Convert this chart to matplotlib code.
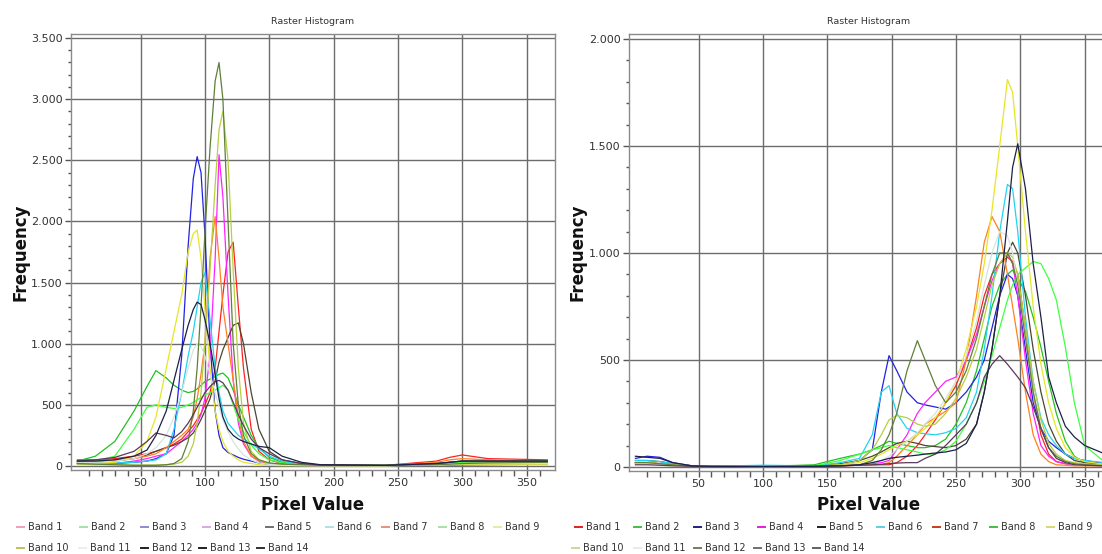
import matplotlib
matplotlib.use("Agg")
import matplotlib.pyplot as plt
from matplotlib.lines import Line2D
from matplotlib.ticker import FixedLocator, FuncFormatter

# ---------------------------------------------------------------- data
bands = [f"Band {i}" for i in range(1, 15)]

# left histogram: pixel values and frequencies per band
left_x = [1, 15, 30, 45, 55, 62, 70, 76, 82, 87, 91, 94, 97, 100, 104, 108, 111,
          114, 118, 122, 126, 130, 136, 142, 150, 160, 175, 190, 240, 280, 290,
          300, 320, 366]
left_b1 = [50, 50, 60, 80, 100, 120, 150, 180, 220, 280, 330, 380, 430, 500, 600, 800, 1100,
           1400, 1750, 1830, 1300, 800, 300, 120, 50, 20, 10, 5, 5, 40, 70, 90, 60, 50]
left_b2 = [40, 80, 200, 450, 650, 780, 720, 660, 620, 600, 610, 630, 660, 690, 710, 730, 750,
           760, 720, 620, 500, 400, 250, 150, 70, 30, 10, 5, 5, 15, 20, 25, 30, 35]
left_b3 = [20, 15, 20, 30, 40, 60, 100, 250, 900, 1800, 2350, 2530, 2400, 1900, 1000, 450, 250,
           150, 110, 90, 70, 55, 40, 25, 12, 6, 3, 2, 2, 5, 5, 8, 10, 15]
left_b4 = [20, 15, 20, 40, 60, 80, 100, 150, 200, 250, 300, 350, 420, 550, 900, 1700, 2545,
           2200, 1400, 700, 350, 180, 80, 40, 20, 10, 5, 3, 3, 10, 15, 20, 20, 20]
left_b5 = [30, 30, 40, 60, 90, 120, 150, 170, 200, 230, 270, 320, 380, 450, 550, 700, 850,
           950, 1050, 1150, 1170, 1000, 600, 300, 120, 50, 20, 8, 5, 20, 30, 40, 40, 40]
left_b6 = [20, 20, 25, 30, 40, 50, 100, 300, 600, 900, 1100, 1300, 1500, 1580, 1200, 800, 600,
           450, 350, 300, 250, 220, 180, 140, 80, 40, 10, 4, 3, 10, 15, 20, 20, 20]
left_b7 = [40, 40, 50, 60, 80, 100, 150, 200, 250, 300, 400, 550, 750, 1000, 1700, 2040, 1700,
           1300, 1000, 700, 400, 200, 80, 40, 20, 10, 5, 3, 3, 30, 50, 60, 50, 40]
left_b8 = [30, 40, 80, 300, 480, 500, 480, 470, 480, 500, 520, 540, 560, 580, 600, 620, 640,
           660, 620, 500, 380, 280, 170, 100, 50, 25, 10, 5, 5, 20, 25, 30, 35, 40]
left_b9 = [20, 20, 30, 80, 200, 400, 800, 1100, 1400, 1750, 1900, 1930, 1700, 1300, 800, 450, 300,
           200, 120, 80, 50, 30, 20, 10, 5, 3, 2, 2, 2, 5, 8, 10, 10, 10]
left_b10 = [15, 10, 10, 8, 8, 8, 10, 15, 30, 80, 180, 350, 600, 1000, 1600, 2300, 2750,
            2900, 2500, 1600, 800, 350, 120, 50, 20, 10, 5, 3, 3, 10, 15, 20, 25, 30]
left_b11 = [30, 30, 40, 60, 100, 150, 250, 400, 600, 800, 950, 1000, 980, 900, 750, 600, 480,
            380, 280, 200, 140, 90, 50, 25, 12, 6, 3, 2, 2, 10, 15, 20, 20, 20]
left_b12 = [20, 15, 10, 5, 5, 5, 10, 20, 60, 200, 450, 800, 1300, 1900, 2600, 3150, 3300,
            3000, 2000, 1000, 500, 250, 100, 50, 25, 15, 10, 5, 5, 10, 15, 20, 25, 30]
left_b13 = [40, 50, 70, 120, 200, 270, 250, 230, 280, 350, 420, 480, 540, 600, 650, 690, 700,
            680, 620, 520, 420, 330, 220, 150, 100, 50, 20, 8, 5, 20, 30, 40, 40, 40]
left_b14 = [40, 40, 50, 80, 130, 250, 450, 700, 950, 1150, 1280, 1340, 1320, 1200, 1000, 750, 550,
            400, 300, 250, 220, 200, 180, 160, 150, 80, 30, 10, 5, 20, 30, 40, 40, 40]

# right histogram
right_x = [1, 10, 20, 30, 45, 60, 100, 140, 160, 175, 185, 192, 198, 204, 212, 220, 226,
           234, 242, 250, 258, 266, 272, 278, 284, 290, 294, 298, 304, 310, 316, 322,
           328, 335, 342, 350, 366]
right_b1 = [20, 20, 15, 10, 5, 3, 2, 3, 5, 8, 10, 10, 10, 20, 50, 100, 150,
            220, 300, 380, 500, 650, 800, 900, 950, 980, 960, 900, 650, 350, 150, 60,
            25, 15, 10, 8, 5]
right_b2 = [20, 20, 15, 10, 5, 3, 2, 10, 40, 60, 80, 100, 120, 110, 100, 90, 90,
            100, 130, 200, 300, 450, 600, 750, 850, 900, 920, 880, 820, 700, 560, 400,
            250, 120, 50, 20, 5]
right_b3 = [40, 50, 45, 20, 5, 3, 2, 3, 10, 30, 80, 350, 520, 450, 350, 300, 290,
            280, 270, 300, 350, 420, 500, 650, 800, 900, 880, 800, 550, 300, 180, 120,
            90, 60, 40, 30, 15]
right_b4 = [20, 20, 15, 10, 5, 3, 2, 3, 5, 10, 15, 20, 30, 80, 150, 250, 300,
            350, 400, 420, 500, 620, 750, 870, 950, 1000, 950, 800, 500, 250, 100, 50,
            25, 15, 10, 8, 5]
right_b5 = [30, 30, 25, 15, 5, 3, 2, 5, 15, 30, 50, 70, 90, 110, 120, 110, 100,
            95, 90, 100, 130, 200, 350, 550, 800, 1000, 1050, 1000, 800, 550, 350, 200,
            120, 60, 30, 20, 10]
right_b6 = [30, 30, 25, 15, 5, 3, 8, 5, 20, 40, 150, 350, 380, 250, 180, 160, 155,
            150, 160, 180, 230, 350, 550, 800, 1100, 1320, 1300, 1100, 700, 400, 230, 150,
            100, 60, 40, 30, 20]
right_b7 = [20, 20, 15, 10, 5, 3, 2, 3, 5, 8, 10, 12, 20, 50, 100, 150, 200,
            230, 260, 300, 500, 800, 1050, 1170, 1100, 900, 750, 600, 350, 150, 60, 25,
            10, 8, 5, 5, 5]
right_b8 = [20, 20, 15, 10, 5, 3, 2, 5, 30, 60, 80, 90, 100, 90, 80, 70, 60,
            60, 80, 120, 200, 300, 400, 520, 650, 780, 850, 900, 930, 960, 950, 880,
            780, 560, 300, 100, 20]
right_b9 = [20, 20, 15, 10, 5, 3, 2, 3, 10, 20, 40, 60, 80, 100, 120, 150, 180,
            230, 300, 400, 550, 750, 950, 1200, 1500, 1810, 1750, 1500, 1100, 750, 480, 300,
            180, 90, 45, 25, 12]
right_b10 = [15, 15, 10, 8, 5, 3, 2, 3, 10, 30, 80, 150, 220, 240, 230, 200, 190,
             200, 250, 320, 420, 550, 700, 850, 950, 1000, 980, 900, 650, 400, 220, 110,
             60, 30, 20, 15, 10]
right_b11 = [15, 15, 10, 8, 5, 3, 2, 3, 5, 10, 20, 30, 50, 80, 120, 160, 200,
             250, 320, 400, 520, 680, 850, 1000, 1100, 1080, 1000, 850, 600, 350, 180, 90,
             40, 20, 10, 8, 5]
right_b12 = [20, 20, 15, 10, 5, 3, 2, 3, 5, 10, 30, 80, 150, 250, 450, 590, 500,
             380, 300, 350, 450, 600, 750, 900, 1000, 1000, 950, 850, 600, 350, 180, 90,
             50, 25, 15, 10, 5]
right_b13 = [10, 10, 8, 5, 3, 2, 2, 3, 5, 8, 10, 12, 15, 18, 20, 20, 40,
             60, 100, 150, 200, 300, 420, 480, 520, 480, 450, 420, 370, 280, 180, 90,
             40, 20, 10, 8, 5]
right_b14 = [50, 45, 40, 20, 5, 3, 2, 3, 5, 10, 20, 30, 40, 45, 50, 55, 60,
             65, 70, 80, 110, 200, 350, 550, 800, 1150, 1400, 1510, 1300, 950, 700, 420,
             300, 190, 140, 100, 60]

left_series = [left_b1, left_b2, left_b3, left_b4, left_b5, left_b6, left_b7,
               left_b8, left_b9, left_b10, left_b11, left_b12, left_b13, left_b14]
right_series = [right_b1, right_b2, right_b3, right_b4, right_b5, right_b6, right_b7,
                right_b8, right_b9, right_b10, right_b11, right_b12, right_b13, right_b14]

x_ticks = [50, 100, 150, 200, 250, 300, 350]
left_y_ticks = [0, 500, 1000, 1500, 2000, 2500, 3000, 3500]
right_y_ticks = [0, 500, 1000, 1500, 2000]

# ---------------------------------------------------------------- styles
line_colors = ["#ff2020", "#22c022", "#2222e0", "#ff22ff", "#4a4530", "#22d4f0", "#ff8020",
               "#40ff40", "#e6e628", "#b4d040", "#d5e4dc", "#5f7f3a", "#5a3a5a", "#1c2048"]
legend_left = ["#f0a0b4", "#a8e0a8", "#8c8cd4", "#d8a8e4", "#707070", "#a8e4e8", "#e8907c",
               "#a8e0a8", "#e8e8a8", "#c0c060", "#e8f0f0", "#202020", "#202020", "#303030"]
legend_right = ["#e02020", "#40c040", "#202080", "#e020e0", "#202020", "#60d0e0", "#c83a22",
                "#40c040", "#d8d870", "#c8d8a0", "#e4ecec", "#6e7e5e", "#707070", "#606060"]

W, H = 1102, 554
fig = plt.figure(figsize=(W / 100, H / 100), dpi=100)
fig.patch.set_facecolor("white")


def axes_px(left, top, right, bottom):
    return fig.add_axes([left / W, 1 - bottom / H, (right - left) / W, (bottom - top) / H])


def thousands(v, _pos):
    return f"{int(round(v)):,}".replace(",", ".")


def style_axes(ax, yticks, ylim):
    ax.set_xlim(-4, 372)
    ax.set_ylim(*ylim)
    ax.xaxis.set_major_locator(FixedLocator(x_ticks))
    ax.xaxis.set_minor_locator(FixedLocator([v for v in range(10, 370, 10) if v % 50]))
    ax.yaxis.set_major_locator(FixedLocator(yticks))
    ax.yaxis.set_minor_locator(FixedLocator([v for v in range(100, yticks[-1], 100) if v % 500]))
    ax.yaxis.set_major_formatter(FuncFormatter(thousands))
    ax.grid(which="major", color="#6c6c6c", linewidth=1.0)
    ax.set_axisbelow(True)
    ax.tick_params(which="both", direction="out", colors="#555555", labelcolor="#333333",
                   labelsize=8, width=1.0, pad=2)
    ax.tick_params(axis="x", which="both", length=4)
    ax.tick_params(axis="y", which="major", length=4)
    ax.tick_params(axis="y", which="minor", length=2.5)
    for s in ax.spines.values():
        s.set_color("#8a8a8a")
        s.set_linewidth(1.0)


def legend_row(xs, y, idx, colors):
    for tx, i in zip(xs, idx):
        fig.add_artist(Line2D([(tx - 11) / W, (tx - 4) / W], [1 - y / H, 1 - y / H],
                              color=colors[i], linewidth=1.4))
        fig.text(tx / W, 1 - y / H, bands[i], fontsize=7, color="#333333",
                 ha="left", va="center")


panels = [
    (axes_px(71, 34, 555, 470), left_x, left_series, left_y_ticks, (-33, 3533), 313, 21,
     legend_left, [28, 91, 152, 214, 277, 337, 393, 450, 505], [28, 90, 152, 210, 268]),
    (axes_px(629, 34, 1113, 471), right_x, right_series, right_y_ticks, (-19, 2023), 869, 577,
     legend_right, [586, 645, 705, 769, 829, 888, 944, 1001, 1058], [583, 645, 705, 765, 824]),
]

for ax, xs, series, yticks, ylim, cx, ylab_x, lcolors, row1, row2 in panels:
    style_axes(ax, yticks, ylim)
    for vals, c in zip(series, line_colors):
        ax.plot(xs, vals, color=c, linewidth=0.9)
    fig.text(cx / W, 1 - 22 / H, "Raster Histogram", fontsize=6.8, color="#333333",
             ha="center", va="center")
    fig.text(cx / W, 1 - 505 / H, "Pixel Value", fontsize=12, fontweight="bold",
             color="#111111", ha="center", va="center")
    fig.text(ylab_x / W, 1 - 252 / H, "Frequency", fontsize=12, fontweight="bold",
             color="#111111", ha="center", va="center", rotation=90)
    legend_row(row1, 527, range(0, 9), lcolors)
    legend_row(row2, 548, range(9, 14), lcolors)

fig.savefig("out.png", dpi=100)
